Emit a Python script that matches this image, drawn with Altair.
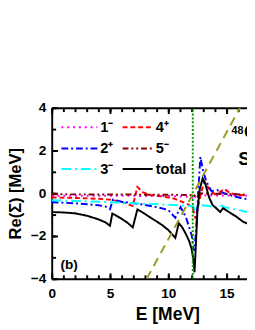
import altair as alt
import pandas as pd

# ---- data ----
E_1m = [0, 5, 10, 12.0, 12.2, 12.4, 13.0, 16.8]
R_1m = [-0.12, -0.12, -0.13, -0.18, -0.3, -0.05, -0.1, -0.12]

E_4p = [0, 2, 4, 5, 6, 6.95, 7.35, 7.8, 8.5, 9.5, 10.5, 11.2, 11.8, 12.1, 12.35, 12.6, 12.85, 13.1, 13.5, 14.0, 14.4, 14.8, 15.3, 16.0, 16.8]
R_4p = [-0.2, -0.22, -0.26, -0.3, -0.4, -0.6, 0.3, 0.05, -0.08, -0.15, -0.25, -0.4, -0.55, -0.7, -1.2, -0.5, 0.1, 0.55, 0.2, -0.05, 0.05, 0.2, 0.0, -0.08, -0.1]

E_2p = [0, 2, 4, 4.6, 5.0, 5.25, 6, 7, 8, 9, 10, 10.6, 11.05, 11.5, 12.0, 12.2, 12.35, 12.5, 12.75, 13.0, 13.3, 13.7, 14.2, 14.8, 15.5, 16.2, 16.8]
R_2p = [-0.42, -0.47, -0.56, -0.62, -0.75, -0.3, -0.4, -0.47, -0.55, -0.65, -0.78, -1.15, -0.65, -1.1, -1.95, -2.7, -2.0, -0.6, 1.7, 1.0, 0.5, 0.1, 0.15, 0.0, -0.12, -0.22, -0.28]

E_5m = [0, 6, 12.0, 12.2, 12.4, 16.8]
R_5m = [-0.05, -0.06, -0.08, -0.15, 0.0, -0.07]

E_3m = [0, 2, 4, 6, 8, 10, 11.5, 12.15, 12.3, 12.6, 13.5, 14.3, 14.6, 14.9, 15.8, 16.8]
R_3m = [-0.33, -0.36, -0.4, -0.44, -0.49, -0.54, -0.58, -0.62, -0.8, -0.55, -0.6, -0.68, -0.58, -0.66, -0.76, -0.88]

E_tot = [0, 1, 2, 3, 4, 4.6, 5.0, 5.2, 5.6, 6.0, 6.5, 6.95, 7.35, 7.8, 8.5, 9.0, 9.5, 10.0, 10.6, 10.9, 11.2, 11.5, 11.8, 12.0, 12.15, 12.25, 12.35, 12.5, 12.7, 12.95, 13.2, 13.5, 13.8, 14.2, 14.45, 14.7, 15.2, 15.8, 16.4, 16.8]
R_tot = [-0.88, -0.9, -0.94, -1.05, -1.22, -1.36, -1.52, -0.95, -1.07, -1.2, -1.38, -1.6, -0.76, -0.9, -1.15, -1.32, -1.5, -1.72, -2.09, -1.4, -1.6, -1.9, -2.25, -2.6, -3.1, -3.7, -2.6, -0.8, 0.2, 0.7, 0.4, -0.2, -0.55, -0.75, -0.88, -0.7, -0.88, -1.08, -1.33, -1.42]

E_diag = [8.15, 16.15]
R_diag = [-4, 4]

E_fermi = [12.1, 12.1]
R_fermi = [-4, 4]

# legend order (row-major, two columns)
series_names = ["1⁻", "4⁺", "2⁺", "5⁻", "3⁻", "total"]
series_colors = ["#ff00ff", "#ff0000", "#0000ff", "#800000", "#00ffff", "#000000"]
series_dash = [[2, 4], [5, 3], [7, 3, 2, 3], [6, 3, 2, 3, 2, 3], [10, 4, 2, 4], [1, 0]]
series_data = {"1⁻": (E_1m, R_1m), "4⁺": (E_4p, R_4p), "2⁺": (E_2p, R_2p),
               "5⁻": (E_5m, R_5m), "3⁻": (E_3m, R_3m), "total": (E_tot, R_tot)}

XMAJ = [0, 5, 10, 15]
XMIN = list(range(0, 17))
YMAJ = [-4, -2, 0, 2, 4]
YMIN = list(range(-4, 5))

FONT = "Liberation Sans"

rows = []
for name in series_names:
    es, rs = series_data[name]
    for i, (e, r) in enumerate(zip(es, rs)):
        rows.append({"series": name, "E": e, "Re": r, "idx": i})
df = pd.DataFrame(rows)

df_diag = pd.DataFrame({"E": E_diag, "Re": R_diag})
df_fermi = pd.DataFrame({"E": E_fermi, "Re": R_fermi})
one = pd.DataFrame({"E": [0.0], "Re": [0.0]})

xs = alt.Scale(domain=[0, 16.75], nice=False, zero=False)
ys = alt.Scale(domain=[-4, 4], nice=False, zero=False)

lines = alt.Chart(df).mark_line(strokeWidth=2, clip=True).encode(
    x=alt.X("E:Q", scale=xs, axis=alt.Axis(
        orient="bottom", values=XMAJ, title="E [MeV]", ticks=False, tickSize=0,
        domainWidth=2, domainColor="black", grid=False,
        labelFont=FONT, labelFontSize=14, labelFontWeight="bold", labelColor="black",
        labelPadding=8, labelFlush=False,
        titleFont=FONT, titleFontSize=18, titleFontWeight="bold", titleColor="black",
        titleX=119, titleY=42, titleBaseline="alphabetic")),
    y=alt.Y("Re:Q", scale=ys, axis=alt.Axis(
        orient="left", values=YMAJ, title="Re(Σ) [MeV]", ticks=False, tickSize=0,
        domainWidth=2, domainColor="black", grid=False,
        labelFont=FONT, labelFontSize=14, labelFontWeight="bold", labelColor="black",
        labelPadding=6, labelFlush=False,
        titleFont=FONT, titleFontSize=17, titleFontWeight="bold", titleColor="black",
        titleX=-32, titleY=88, titleBaseline="alphabetic")),
    color=alt.Color("series:N", scale=alt.Scale(domain=series_names, range=series_colors), legend=None),
    strokeDash=alt.StrokeDash("series:N", scale=alt.Scale(domain=series_names, range=series_dash), legend=None),
    order="idx:Q",
)

diag = alt.Chart(df_diag).mark_line(color="#9a9a20", strokeWidth=2, strokeDash=[9, 6], clip=True).encode(
    x=alt.X("E:Q", scale=xs, axis=None), y=alt.Y("Re:Q", scale=ys, axis=None))

fermi = alt.Chart(df_fermi).mark_line(color="#009900", strokeWidth=2, strokeDash=[2, 2], clip=True).encode(
    x=alt.X("E:Q", scale=xs, axis=None), y=alt.Y("Re:Q", scale=ys, axis=None))


def tick_layer(xaxis, yaxis):
    return alt.Chart(one).mark_point(opacity=0).encode(
        x=alt.X("E:Q", scale=xs, axis=xaxis), y=alt.Y("Re:Q", scale=ys, axis=yaxis))


def tick_axis(orient, values, size):
    return alt.Axis(orient=orient, values=values, offset=-size, tickSize=size, tickWidth=2,
                    tickColor="black", labels=False, domain=False, title=None, grid=False)


t1 = tick_layer(tick_axis("bottom", XMAJ, 6), tick_axis("left", YMAJ, 6))
t2 = tick_layer(tick_axis("bottom", XMIN, 4), tick_axis("left", YMIN, 4))
t3 = tick_layer(alt.Axis(orient="top", domainWidth=2, domainColor="black", ticks=False,
                         labels=False, title=None, grid=False), None)
t4 = tick_layer(tick_axis("top", XMAJ, 6), None)
t5 = tick_layer(tick_axis("top", XMIN, 4), None)


def txt(s, x, y, size):
    return alt.Chart(one).mark_text(text=s, font=FONT, fontSize=size, fontWeight="bold",
                                    align="left", baseline="alphabetic", color="black").encode(
        x=alt.value(x), y=alt.value(y))


# manual legend: two columns, three rows
leg_layers = []
col_x = [(10, 47), (73, 104)]
row_y = [20, 42, 63]
for k, name in enumerate(series_names):
    c, r = k % 2, k // 2
    x0, x1 = col_x[c]
    y = row_y[r]
    leg_layers.append(
        alt.Chart(one).mark_rule(color=series_colors[k], strokeDash=series_dash[k], strokeWidth=2).encode(
            x=alt.value(x0), x2=alt.value(x1), y=alt.value(y)))
    leg_layers.append(txt(name, x1 + 3, y + 5, 15))

texts = [txt("(b)", 9, 166, 14), txt("48", 185, 27, 11), txt("Ca", 198, 31, 19), txt("SRPA", 192, 59, 19)]

chart = alt.layer(lines, diag, fermi, t1, t2, t3, t4, t5, *leg_layers, *texts).resolve_axis(
    x="independent", y="independent"
).properties(
    width=201, height=176,
    autosize=alt.AutoSizeParams(type="none"),
    padding={"left": 45, "top": 98, "right": 0, "bottom": 44},
).configure_view(strokeWidth=0)

chart.save("out.html", embed_options={"renderer": "svg", "actions": False})
